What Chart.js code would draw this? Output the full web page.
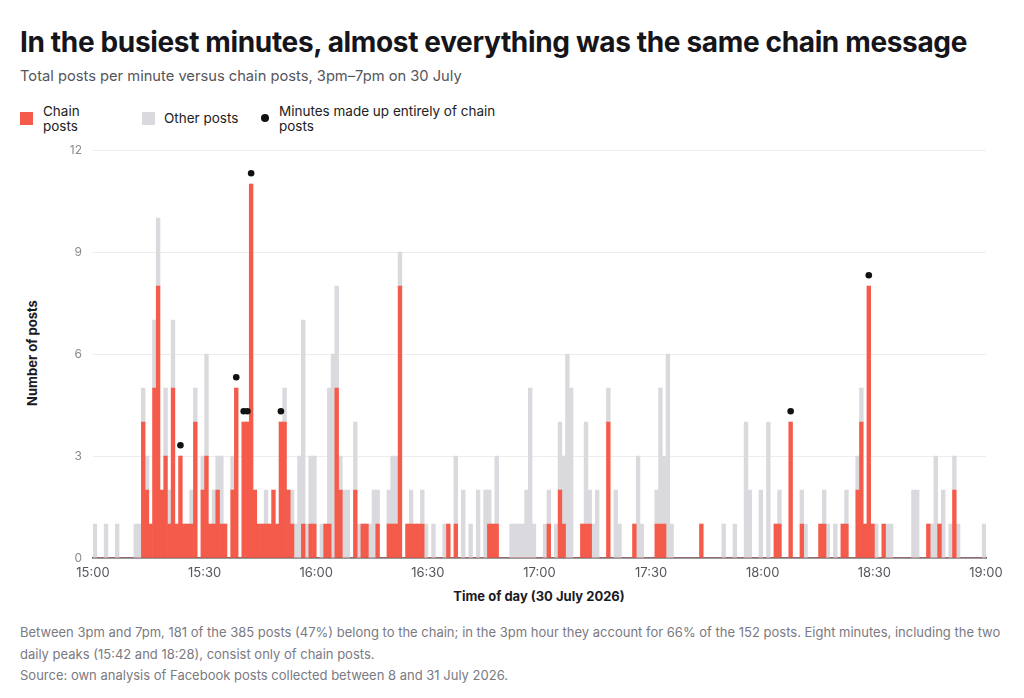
<!DOCTYPE html>
<html>
<head>
<meta charset="utf-8">
<script src="https://cdn.jsdelivr.net/npm/chart.js@4.4.1/dist/chart.umd.min.js"></script>
<style>
  html, body { margin: 0; padding: 0; background: #fff; }
  body { width: 1024px; height: 698px; position: relative; overflow: hidden; font-family: Inter, "Noto Sans", sans-serif; color: #1a1a1f; }
  .abs { position: absolute; white-space: nowrap; }
  #title { left: 20px; top: 25px; font-size: 28px; font-weight: 700; letter-spacing: -0.35px; color: #15151a; }
  #subtitle { left: 20px; top: 67px; font-size: 14.7px; color: #55555c; }
  .legend-text { font-size: 13.5px; line-height: 14.5px; color: #222; }
  .swatch { position: absolute; width: 13px; height: 13px; }
  .axis-title { font-size: 13px; font-weight: 700; color: #1a1a1f; }
  #ytitle { left: 32px; top: 353px; transform: translate(-50%, -50%) rotate(-90deg); }
  #xtitle { left: 539px; top: 596px; transform: translate(-50%, -50%); }
  #footer { left: 20px; top: 622px; font-size: 13px; line-height: 21.5px; color: #7a7a82; }
  #chart-box { position: absolute; left: 0; top: 132px; width: 1024px; height: 483px; }
</style>
</head>
<body>
<div id="title" class="abs">In the busiest minutes, almost everything was the same chain message</div>
<div id="subtitle" class="abs">Total posts per minute versus chain posts, 3pm–7pm on 30 July</div>

<div class="swatch" style="left:20px; top:112px; background:#f45b4b;"></div>
<div class="abs legend-text" style="left:43px; top:104px;">Chain<br>posts</div>
<div class="swatch" style="left:142px; top:112px; background:#d9d9de;"></div>
<div class="abs legend-text" style="left:164px; top:111px;">Other posts</div>
<div class="swatch" style="left:261px; top:114px; width:8px; height:8px; border-radius:50%; background:#111;"></div>
<div class="abs legend-text" style="left:279px; top:104px;">Minutes made up entirely of chain<br>posts</div>

<div id="ytitle" class="abs axis-title">Number of posts</div>
<div id="xtitle" class="abs axis-title">Time of day (30 July 2026)</div>

<div id="chart-box"><canvas id="chart-canvas"></canvas></div>

<div id="footer" class="abs">Between 3pm and 7pm, 181 of the 385 posts (47%) belong to the chain; in the 3pm hour they account for 66% of the 152 posts. Eight minutes, including the two<br>daily peaks (15:42 and 18:28), consist only of chain posts.<br>Source: own analysis of Facebook posts collected between 8 and 31 July 2026.</div>

<script>
// one value per minute, 15:00 .. 18:59 (30 per row = half an hour)
const chainPosts = [
  0,0,0,0,0,0,0,0,0,0, 0,0,0,4,2,1,5,8,2,3, 1,5,1,3,1,1,1,4,0,2,
  3,1,1,2,1,1,0,2,5,0, 4,4,11,2,1,1,1,1,2,1, 4,4,2,1,0,0,1,0,1,1,
  0,0,1,1,0,5,2,0,0,0, 2,0,1,1,0,0,1,0,0,1, 1,1,8,0,1,1,1,1,1,0,
  0,0,0,0,0,1,0,1,0,0, 0,0,0,0,0,0,1,1,1,0, 0,0,0,0,0,0,0,0,0,0,
  0,0,1,0,0,2,1,0,0,0, 0,1,1,1,0,0,0,0,4,0, 0,0,0,0,0,1,0,0,0,0,
  0,1,1,1,0,0,0,0,0,0, 0,0,0,1,0,0,0,0,0,0, 0,0,0,0,0,0,0,0,0,0,
  0,0,0,1,1,0,0,4,0,0, 1,0,0,0,0,1,1,0,0,0, 0,1,1,0,0,2,4,1,8,1,
  0,0,1,0,0,0,0,0,0,0, 0,0,0,0,1,0,0,1,0,0, 0,2,0,0,0,0,0,0,0,0,
];
const otherPosts = [
  1,0,0,1,0,0,1,0,0,0, 0,1,1,1,1,0,2,2,0,2, 1,2,0,0,0,0,1,1,0,1,
  3,0,1,1,2,0,0,1,0,0, 0,0,0,0,0,0,1,0,0,0, 0,1,0,1,1,3,6,1,2,2,
  0,1,0,4,6,3,1,2,2,0, 2,1,0,0,1,2,1,0,0,1, 2,2,1,0,0,1,0,0,1,1,
  0,1,0,0,1,0,0,2,0,2, 0,1,0,2,0,2,1,0,2,0, 0,0,1,1,1,1,2,5,1,0,
  0,1,1,0,1,2,2,6,5,0, 0,0,3,1,1,2,0,0,1,0, 2,1,0,0,0,0,3,1,0,0,
  0,1,4,2,6,1,0,0,0,0, 0,0,0,0,0,0,0,0,0,1, 0,0,1,0,0,4,2,0,0,2,
  0,4,0,0,1,0,0,0,0,0, 1,1,0,0,0,0,1,1,0,1, 0,0,1,0,0,1,1,0,0,0,
  1,0,0,1,1,0,0,0,0,0, 2,2,0,0,0,1,3,0,2,0, 1,1,1,0,0,0,0,0,0,1,
];
// minutes (from 15:00) flagged with a dot
const chainOnlyMinutes = [23, 38, 40, 41, 42, 50, 187, 208];
const startHour = 15;
const yTicks = [0, 3, 6, 9, 12];

document.addEventListener("DOMContentLoaded", main);

function main() {
  const ctx = document.getElementById("chart-canvas").getContext("2d");
  const chainData = chainPosts.map((v, i) => ({ x: i + 0.5, y: v }));
  const otherData = otherPosts.map((v, i) => ({ x: i + 0.5, y: v }));
  const dotData = chainOnlyMinutes.map((m) => ({
    x: m + 0.5,
    y: chainPosts[m] + otherPosts[m] + 0.32, // dot sits just above the bar
  }));

  new Chart(ctx, {
    type: "bar",
    data: {
      datasets: [
        {
          label: "Chain posts",
          data: chainData,
          backgroundColor: "#f45b4b",
          borderWidth: 0,
          barPercentage: 1,
          categoryPercentage: 1,
          stack: "posts",
          order: 2,
        },
        {
          label: "Other posts",
          data: otherData,
          backgroundColor: "#d9d9de",
          borderWidth: 0,
          barPercentage: 1,
          categoryPercentage: 1,
          stack: "posts",
          order: 3,
        },
        {
          type: "scatter",
          label: "Minutes made up entirely of chain posts",
          data: dotData,
          backgroundColor: "#111",
          borderWidth: 0,
          pointRadius: 3.3,
          stack: "dots",
          order: 1,
        },
      ],
    },
    options: {
      responsive: true,
      maintainAspectRatio: false,
      animation: false,
      layout: { padding: { top: 11, right: 38, left: 0, bottom: 0 } },
      plugins: { legend: { display: false }, tooltip: { enabled: false } },
      scales: {
        x: {
          type: "linear",
          min: 0,
          max: 240,
          stacked: true,
          offset: false,
          afterFit: (scale) => { scale.height = 57; },
          grid: { display: false, drawTicks: false },
          border: { display: true, color: "#4a4a50", width: 1.5 },
          ticks: {
            stepSize: 30,
            padding: 7,
            color: "#55555c",
            font: { family: "Inter", size: 13 },
            maxRotation: 0,
            callback: (v) => {
              const h = startHour + Math.floor(v / 60);
              const m = v % 60;
              return h + ":" + String(m).padStart(2, "0");
            },
          },
        },
        y: {
          min: 0,
          max: 12,
          stacked: true,
          afterFit: (scale) => { scale.width = 93; },
          afterBuildTicks: (scale) => { scale.ticks = yTicks.map((v) => ({ value: v })); },
          grid: { color: "#ededf0", drawTicks: false, lineWidth: 1 },
          border: { display: false },
          ticks: {
            padding: 11,
            color: "#8a8a90",
            font: { family: "Inter", size: 12 },
          },
        },
      },
    },
  });
}
</script>
</body>
</html>
